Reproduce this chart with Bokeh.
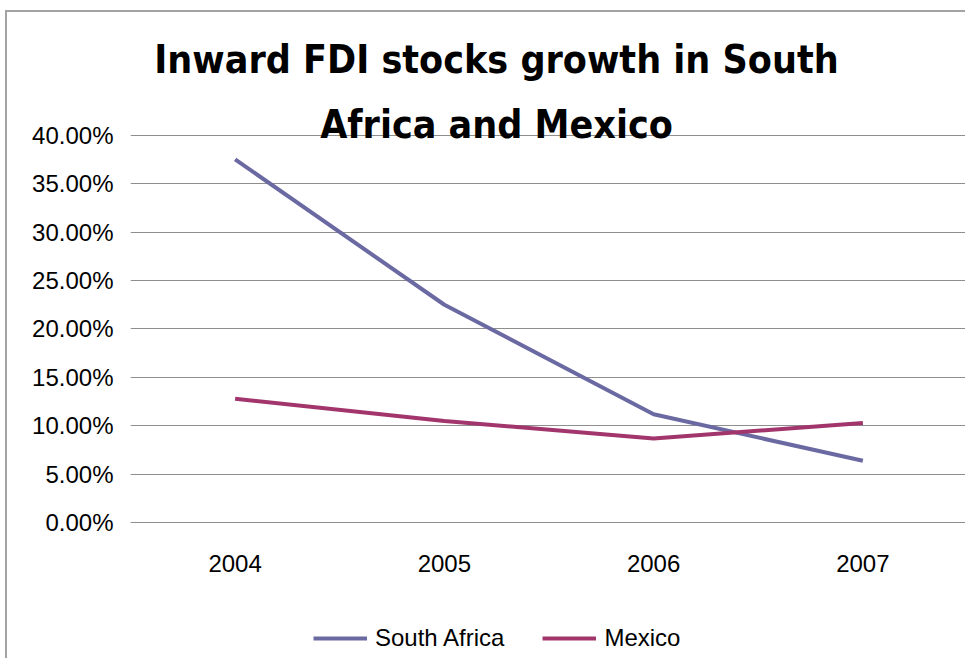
from bokeh.plotting import figure
from bokeh.models import FactorRange, Range1d, FixedTicker, NumeralTickFormatter, Legend, LegendItem, Label
from bokeh.embed import file_html
from bokeh.resources import INLINE

years = ["2004", "2005", "2006", "2007"]
south_africa = [0.375, 0.225, 0.112, 0.064]
mexico = [0.128, 0.105, 0.087, 0.103]
y_ticks = [0.0, 0.05, 0.10, 0.15, 0.20, 0.25, 0.30, 0.35, 0.40]
title_lines = ["Inward FDI stocks growth in South", "Africa and Mexico"]

SA_COLOR = "#6b69a2"
MX_COLOR = "#a2366c"
FONT = "Liberation Sans"
TITLE_FONT = "DejaVu Sans Condensed"

# the plot frame fills the whole canvas height; only 0%..40% carry ticks and grid lines
p = figure(title=None, x_range=FactorRange(*years), y_range=Range1d(-0.1421, 0.5266),
           width=960, height=648, output_backend="svg", toolbar_location=None,
           min_border_left=123, min_border_right=0, min_border_top=0, min_border_bottom=0)
p.styles = {"border-left": "2px solid #a3a3a3", "border-top": "2px solid #a3a3a3",
            "margin-left": "5px", "margin-top": "10px"}
p.outline_line_color = None
p.background_fill_color = "white"
p.border_fill_color = "white"

r1 = p.line(years, south_africa, line_color=SA_COLOR, line_width=4)
r2 = p.line(years, mexico, line_color=MX_COLOR, line_width=4)

p.yaxis.ticker = FixedTicker(ticks=y_ticks)
p.yaxis.formatter = NumeralTickFormatter(format="0.00%")
p.yaxis.axis_line_color = None
p.yaxis.major_tick_line_color = None
p.yaxis.minor_tick_line_color = None
p.yaxis.major_tick_out = 0
p.yaxis.minor_tick_out = 0
p.yaxis.major_label_standoff = 17
p.yaxis.major_label_text_font = FONT
p.yaxis.major_label_text_font_size = "24px"
p.yaxis.major_label_text_color = "black"

p.xaxis.fixed_location = 0
p.xaxis.axis_line_color = None
p.xaxis.major_tick_line_color = None
p.xaxis.minor_tick_line_color = None
p.xaxis.major_tick_out = 0
p.xaxis.major_label_standoff = 32
p.xaxis.major_label_text_font = FONT
p.xaxis.major_label_text_font_size = "24px"
p.xaxis.major_label_text_color = "black"

p.xgrid.grid_line_color = None
p.ygrid.ticker = FixedTicker(ticks=y_ticks)
p.ygrid.grid_line_color = "#8e8e8e"
p.ygrid.grid_line_width = 1

for txt, ty in zip(title_lines, [601, 536]):
    p.add_layout(Label(x=366, y=ty, x_units="screen", y_units="screen", text=txt,
                       text_align="center", text_baseline="alphabetic",
                       text_font=TITLE_FONT, text_font_style="bold",
                       text_font_size="39px", text_color="black"))

legend = Legend(items=[LegendItem(label="South Africa", renderers=[r1]),
                       LegendItem(label="Mexico", renderers=[r2])],
                orientation="horizontal", location=(183, 8),
                glyph_width=54, glyph_height=20, label_standoff=8, spacing=38,
                label_text_font=FONT, label_text_font_size="24px",
                label_text_color="black",
                border_line_color=None, background_fill_alpha=0,
                padding=0, margin=0)
p.add_layout(legend, "center")

open("out.html", "w").write(file_html(p, INLINE))
